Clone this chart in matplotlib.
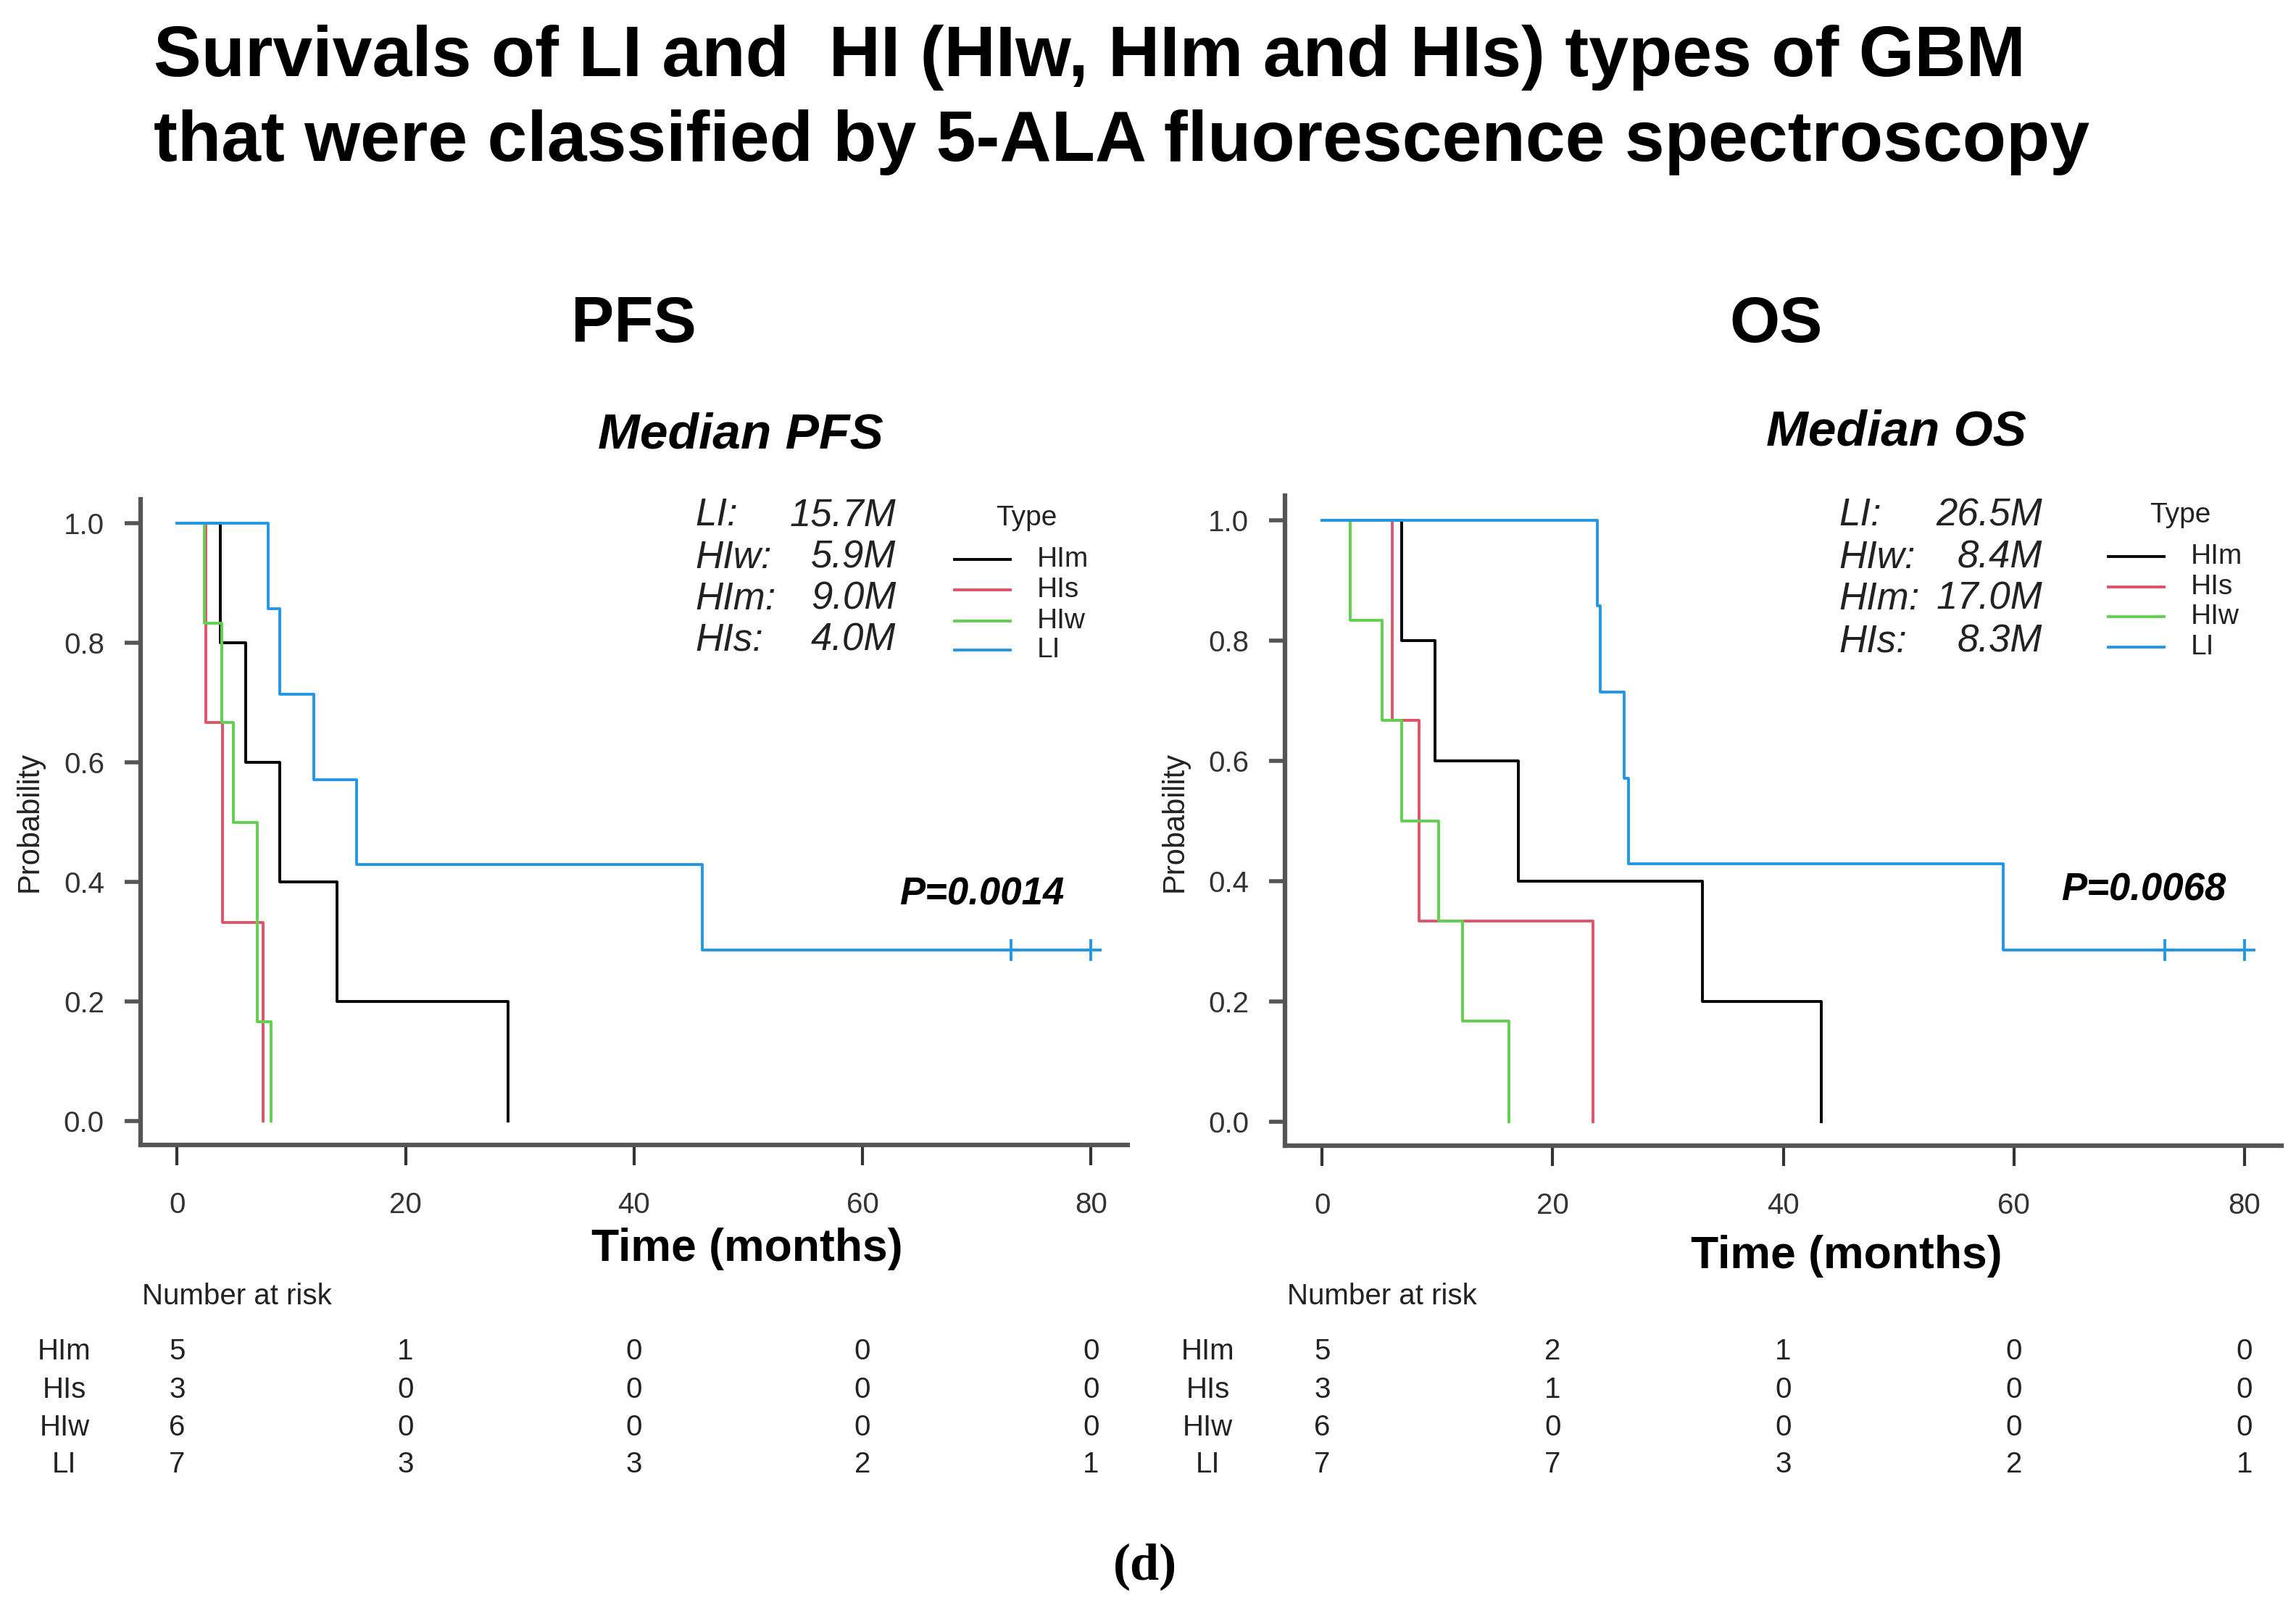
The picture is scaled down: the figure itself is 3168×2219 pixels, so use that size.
import matplotlib
matplotlib.use("Agg")
import matplotlib.pyplot as plt
from matplotlib.lines import Line2D
from matplotlib.transforms import blended_transform_factory

plt.rcParams['font.family'] = ['Liberation Sans', 'DejaVu Sans']

groups = ['HIm', 'HIs', 'HIw', 'LI']
colors = ['#000000', '#DF536B', '#61D04F', '#2297E6']
time_ticks = [0, 20, 40, 60, 80]

# PFS step curves (time, survival)
pfs_t = {'HIm': [0, 3.8, 6.0, 9.0, 14.0, 29.0],
         'HIs': [0, 2.5, 4.0, 7.5],
         'HIw': [0, 2.4, 3.9, 4.9, 7.0, 8.2],
         'LI': [0, 8.0, 9.0, 12.0, 15.7, 46.0, 80.0]}
pfs_s = {'HIm': [1, 0.8, 0.6, 0.4, 0.2, 0.0],
         'HIs': [1, 0.667, 0.333, 0.0],
         'HIw': [1, 0.833, 0.667, 0.5, 0.167, 0.0],
         'LI': [1, 0.857, 0.714, 0.571, 0.429, 0.286, 0.286]}
pfs_cens_t = [73.0, 80.0]
pfs_cens_s = [0.286, 0.286]
pfs_risk = {'HIm': [5, 1, 0, 0, 0],
            'HIs': [3, 0, 0, 0, 0],
            'HIw': [6, 0, 0, 0, 0],
            'LI': [7, 3, 3, 2, 1]}
pfs_median_lab = ['LI:', 'HIw:', 'HIm:', 'HIs:']
pfs_median_val = ['15.7M', '5.9M', '9.0M', '4.0M']
pfs_p = 'P=0.0014'

# OS step curves
os_t = {'HIm': [0, 6.9, 9.8, 17.0, 33.0, 43.3],
        'HIs': [0, 6.1, 8.4, 23.5],
        'HIw': [0, 2.4, 5.2, 6.9, 10.1, 12.2, 16.2],
        'LI': [0, 23.9, 24.1, 26.2, 26.6, 59.1, 80.0]}
os_s = {'HIm': [1, 0.8, 0.6, 0.4, 0.2, 0.0],
        'HIs': [1, 0.667, 0.333, 0.0],
        'HIw': [1, 0.833, 0.667, 0.5, 0.333, 0.167, 0.0],
        'LI': [1, 0.857, 0.714, 0.571, 0.429, 0.286, 0.286]}
os_cens_t = [73.1, 80.0]
os_cens_s = [0.286, 0.286]
os_risk = {'HIm': [5, 2, 1, 0, 0],
           'HIs': [3, 1, 0, 0, 0],
           'HIw': [6, 0, 0, 0, 0],
           'LI': [7, 7, 3, 2, 1]}
os_median_lab = ['LI:', 'HIw:', 'HIm:', 'HIs:']
os_median_val = ['26.5M', '8.4M', '17.0M', '8.3M']
os_p = 'P=0.0068'

W, H = 1568.0, 1098.0  # layout measured on a scaled copy of the reference


def fx(x):
    return x / W


def fy(y):
    return 1 - y / H


fig = plt.figure(figsize=(31.68, 22.19), dpi=100)

fig.text(fx(105), fy(52), 'Survivals of LI and  HI (HIw, HIm and HIs) types of GBM',
         fontsize=71, fontweight='bold', ha='left', va='baseline')
fig.text(fx(105), fy(110), 'that were classified by 5-ALA fluorescence spectroscopy',
         fontsize=71, fontweight='bold', ha='left', va='baseline')


def panel(rect, tt, ss, ct, cs, risk, mlab, mval, pval, name, L):
    ax = fig.add_axes(rect)
    for g, c in zip(groups, colors):
        ax.step(tt[g], ss[g], where='post', color=c, lw=2.8)
    ax.plot(ct, cs, ls='none', marker='+', ms=22, mew=2.8, color=colors[3])
    ax.set_xlim(-3.2, 83.2)
    ax.set_ylim(-0.04, 1.04)
    ax.set_xticks(time_ticks)
    ax.set_yticks([0, 0.2, 0.4, 0.6, 0.8, 1.0])
    ax.set_yticklabels(['0.0', '0.2', '0.4', '0.6', '0.8', '1.0'])
    for s in ['top', 'right']:
        ax.spines[s].set_visible(False)
    for s in ['left', 'bottom']:
        ax.spines[s].set_color('#555555')
        ax.spines[s].set_linewidth(4.5)
    ax.tick_params(axis='y', length=16, width=4, color='#555555', labelsize=29,
                   labelcolor='#333333', pad=20)
    ax.tick_params(axis='x', length=20, width=3, color='#333333', labelsize=29,
                   labelcolor='#333333', pad=26)

    # headers
    fig.text(fx(L['head_x']), fy(222), name, fontsize=64, fontweight='bold',
             ha='center', va='center')
    fig.text(fx(L['med_x']), fy(L['med_y']), 'Median ' + name, fontsize=50,
             fontweight='bold', fontstyle='italic', ha='center', va='center')

    # medians
    for i, (a, b) in enumerate(zip(mlab, mval)):
        y = L['mrow'][i]
        fig.text(fx(L['ml']), fy(y), a, fontsize=38, fontstyle='italic',
                 ha='left', va='center', color='#222222')
        fig.text(fx(L['mr']), fy(y), b, fontsize=38, fontstyle='italic',
                 ha='right', va='center', color='#222222')

    # legend
    fig.text(fx(L['leg_x'] + 49), fy(L['lrow'][0] - 28), 'Type', fontsize=28,
             ha='center', va='center', color='#222222')
    for i, (g, c) in enumerate(zip(groups, colors)):
        y = fy(L['lrow'][i])
        fig.add_artist(Line2D([fx(L['leg_x']), fx(L['leg_x'] + 38)], [y, y],
                              color=c, lw=2.8, transform=fig.transFigure))
        fig.text(fx(L['leg_x'] + 56), y, g, fontsize=28, ha='left', va='center',
                 color='#222222')

    # p value
    fig.text(fx(L['p_x']), fy(L['p_y']), pval, fontsize=38, fontweight='bold',
             fontstyle='italic', ha='right', va='center')

    # axis labels
    fig.text(fx(L['ylab_x']), fy(561), 'Probability', fontsize=30, rotation=90,
             ha='center', va='center', color='#222222')
    fig.text(fx(L['xlab_x']), fy(L['xlab_y']), 'Time (months)', fontsize=45,
             fontweight='bold', ha='center', va='center')

    # number at risk table
    fig.text(fx(L['nar_x']), fy(885), 'Number at risk', fontsize=29,
             ha='left', va='center', color='#222222')
    tr = blended_transform_factory(ax.transData, fig.transFigure)
    rows = [923, 949, 975, 1000]
    for g, y in zip(groups, rows):
        fig.text(fx(L['grp_x']), fy(y), g, fontsize=29, ha='center', va='center',
                 color='#222222')
        for t, n in zip(time_ticks, risk[g]):
            ax.text(t, fy(y), str(n), transform=tr, fontsize=29, ha='center',
                    va='center', color='#222222', clip_on=False)
    return ax


pfs_layout = dict(head_x=433, med_x=506, med_y=297, ml=475, mr=612,
                  mrow=[352, 381, 409, 437], leg_x=652, lrow=[382, 403, 424, 444],
                  p_x=727, p_y=611, ylab_x=20, xlab_x=510, xlab_y=853,
                  nar_x=97, grp_x=44)
os_layout = dict(head_x=1213, med_x=1295, med_y=295, ml=1256, mr=1395,
                 mrow=[352, 381, 409, 438], leg_x=1440, lrow=[380, 401, 421, 442],
                 p_x=1520, p_y=608, ylab_x=802, xlab_x=1261, xlab_y=858,
                 nar_x=879, grp_x=825)

panel([0.0612, 0.2878, 0.4299, 0.4016], pfs_t, pfs_s, pfs_cens_t, pfs_cens_s,
      pfs_risk, pfs_median_lab, pfs_median_val, pfs_p, 'PFS', pfs_layout)
panel([0.5598, 0.2874, 0.4338, 0.4042], os_t, os_s, os_cens_t, os_cens_s,
      os_risk, os_median_lab, os_median_val, os_p, 'OS', os_layout)

fig.text(fx(782), fy(1070), '(d)', fontsize=52, fontweight='bold',
         family='Liberation Serif', ha='center', va='center')

fig.savefig('out.png', dpi=100)
